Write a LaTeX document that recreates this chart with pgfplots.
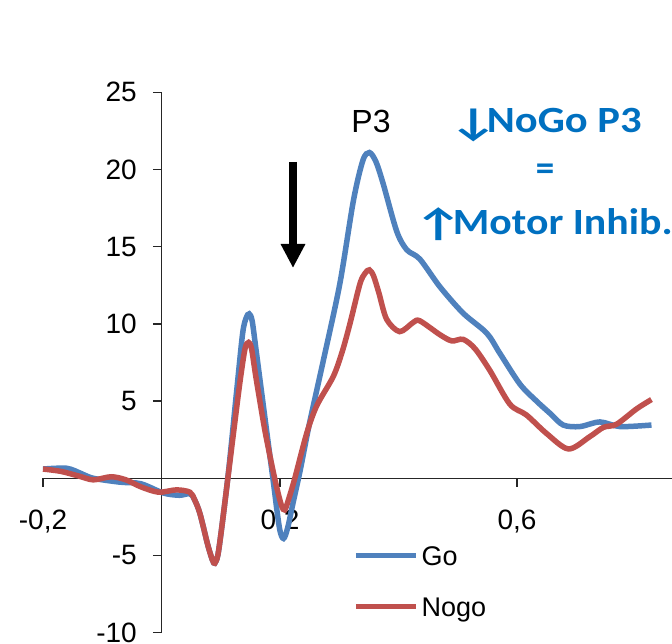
\documentclass[border=0pt]{standalone}
\usepackage{fontspec}
\setmainfont{Liberation Sans}
\newfontfamily\carlito{Carlito}
\newfontfamily\dejavu{DejaVu Sans}
\usepackage{pgfplots}
\pgfplotsset{compat=1.18}
\usetikzlibrary{arrows.meta}
\definecolor{goblue}{HTML}{4F81BD}
\definecolor{nogored}{HTML}{C0504D}
\definecolor{txtblue}{HTML}{0070C0}
% arrow glyph from Carlito if it has one, else DejaVu Sans
\newcommand\arr[1]{\iffontchar\font"#1 \char"#1\else{\dejavu\char"#1}\fi}

\begin{document}
\begin{tikzpicture}[x=1pt,y=1pt]
\useasboundingbox (0,0) rectangle (672,643);
\begin{axis}[
    at={(43pt,10.3pt)}, anchor=south west,
    scale only axis, width=629.2pt, height=540.4pt,
    xmin=-0.2, xmax=0.862, ymin=-10, ymax=25,
    axis lines=middle,
    axis line style={-, line width=1.3pt, black!85},
    xtick={-0.2,0.2,0.6},
    ytick={-10,-5,5,10,15,20,25},
    tick align=outside, major tick length=8.5pt,
    tick style={line width=1.3pt, black!85},
    /pgf/number format/assume math mode=true,
    /pgf/number format/use comma,
    ticklabel style={font=\fontsize{28}{34}\selectfont, inner sep=0pt},
    xticklabel style={anchor=north, yshift=-23pt},
    yticklabel style={anchor=east, xshift=-16pt},
    clip=false,
    legend cell align=left,
    legend style={at={(0.4927,0.1612)}, anchor=north west, draw=none, fill=none,
        inner sep=0pt, outer sep=0pt, row sep=31pt, column sep=3pt,
        font=\fontsize{27}{32}\selectfont,
        nodes={inner sep=0pt, text height=20pt, text depth=0pt}},
    legend image code/.code={\draw[line width=5.5pt] (0pt,0pt) -- (60pt,0pt);},
]

% Go
\addplot[goblue, line width=5.5pt, smooth] coordinates {
    (-0.200, 0.6) (-0.160, 0.65) (-0.135, 0.3) (-0.115, 0.0)
    (-0.070, -0.25) (-0.035, -0.35) (0.003, -0.95) (0.030, -1.1)
    (0.048, -1.0) (0.056, -1.4) (0.065, -2.3) (0.078, -4.3)
    (0.086, -5.3) (0.090, -5.5) (0.095, -5.0) (0.101, -3.4)
    (0.113, 0.4) (0.127, 5.7) (0.137, 9.4) (0.143, 10.4)
    (0.148, 10.65) (0.153, 10.2) (0.160, 8.2) (0.176, 3.5)
    (0.188, 0) (0.199, -3.2) (0.206, -3.9) (0.213, -3.2)
    (0.222, -1.6) (0.234, 0.5) (0.250, 3.6) (0.273, 7.6)
    (0.301, 12.6) (0.324, 18.0) (0.340, 20.6) (0.351, 21.1)
    (0.362, 20.5) (0.374, 19.1) (0.397, 16.0) (0.414, 14.8)
    (0.436, 14.2) (0.470, 12.4) (0.509, 10.7) (0.549, 9.4)
    (0.571, 8.1) (0.605, 6.1) (0.633, 5.0) (0.656, 4.2)
    (0.678, 3.45) (0.706, 3.35) (0.740, 3.65) (0.774, 3.35)
    (0.827, 3.45)
};
\addlegendentry{Go}

% Nogo
\addplot[nogored, line width=5.5pt, smooth] coordinates {
    (-0.200, 0.6) (-0.170, 0.45) (-0.140, 0.15) (-0.115, -0.1)
    (-0.085, 0.1) (-0.060, -0.1) (-0.035, -0.55) (-0.005, -0.9)
    (0.025, -0.75) (0.048, -0.9) (0.056, -1.4) (0.065, -2.3)
    (0.078, -4.3) (0.086, -5.3) (0.090, -5.5) (0.095, -5.0)
    (0.101, -3.4) (0.113, 0.3) (0.125, 4.0) (0.133, 6.4)
    (0.141, 8.4) (0.147, 8.8) (0.152, 8.4) (0.160, 6.4)
    (0.175, 3) (0.191, 0) (0.202, -1.7) (0.208, -2.05)
    (0.215, -1.3) (0.225, 0) (0.245, 2.9) (0.262, 4.7)
    (0.290, 6.6) (0.305, 8.2) (0.318, 10.0) (0.335, 12.6)
    (0.344, 13.3) (0.351, 13.5) (0.358, 13.1) (0.367, 12.0)
    (0.380, 10.3) (0.402, 9.5) (0.425, 10.1) (0.436, 10.2)
    (0.470, 9.3) (0.490, 8.9) (0.509, 9.0) (0.529, 8.4)
    (0.554, 7.0) (0.588, 4.8) (0.616, 4.1) (0.650, 2.9)
    (0.687, 1.9) (0.723, 2.7) (0.746, 3.3) (0.768, 3.5)
    (0.802, 4.5) (0.827, 5.1)
};
\addlegendentry{Nogo}
\end{axis}

% annotations
\node[anchor=base, font=\fontsize{32}{38}\selectfont] at (371,510) {P3};
\draw[line width=8pt, -{Triangle[width=23pt,length=24pt]}] (293,481) -- (293,375);
\begin{scope}[every node/.style={inner sep=0pt, text=txtblue,
        font=\carlito\bfseries\fontsize{37}{44}\selectfont}]
\node[anchor=base west] at (449,507) {\scalebox{1.45}[1.05]{\arr{2193}}};
\node[anchor=base west] at (486.7,510) {\scalebox{1.15}[1]{NoGo P3}};
\node[anchor=center] at (545,471) {=};
\node[anchor=base west] at (414,406) {\scalebox{1.45}[1.05]{\arr{2191}}};
\node[anchor=base west] at (452.7,408) {\scalebox{1.13}[1]{Motor Inhib.}};
\end{scope}
\end{tikzpicture}
\end{document}
